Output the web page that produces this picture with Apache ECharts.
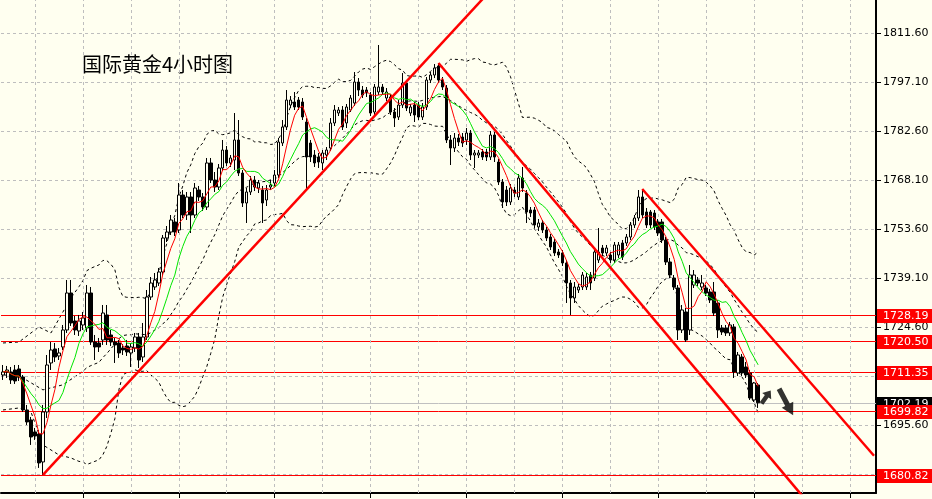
<!DOCTYPE html>
<html><head><meta charset="utf-8">
<script src="https://cdn.jsdelivr.net/npm/echarts@6/dist/echarts.min.js"></script>
<style>html,body{margin:0;padding:0;background:#FFFFF0;}#c{width:932px;height:499px;}</style>
</head><body><div id="c"></div>
<script>
const chartTitle = '国际黄金4小时图';
const slotCount = 219;
const opens = [1710.41,1711.30,1711.30,1711.89,1712.19,1709.82,1700.05,1697.09,1693.53,1692.94,
1684.65,1699.46,1713.97,1718.11,1716.04,1718.70,1723.74,1734.69,1726.40,1723.44,
1725.22,1724.33,1734.69,1720.18,1719.89,1720.78,1728.18,1722.26,1720.18,1719.89,
1718.41,1719.00,1716.93,1718.41,1721.66,1715.74,1721.66,1733.51,1736.47,1737.65,
1740.91,1750.98,1752.75,1755.72,1753.35,1763.71,1757.79,1763.12,1757.79,1765.19,
1763.12,1760.16,1773.19,1768.15,1766.08,1771.71,1777.03,1773.19,1774.07,1780.00,
1770.22,1761.34,1764.60,1768.15,1765.78,1765.19,1762.23,1766.08,1767.26,1769.63,
1779.11,1783.85,1790.36,1791.25,1791.84,1791.25,1785.33,1779.11,1775.55,1774.96,
1773.19,1775.55,1777.63,1785.03,1787.99,1788.88,1785.03,1788.88,1790.95,1797.17,
1794.80,1794.80,1793.32,1788.29,1794.21,1795.69,1792.43,1792.73,1788.29,1786.81,
1790.36,1796.87,1787.99,1790.36,1790.36,1786.81,1789.77,1797.76,1799.24,1801.91,
1797.76,1795.39,1780.00,1777.63,1780.59,1780.88,1780.00,1782.07,1775.55,1775.55,
1776.44,1776.44,1774.96,1781.48,1773.48,1767.56,1765.19,1761.64,1765.19,1763.12,
1768.74,1764.30,1759.27,1759.27,1754.24,1755.42,1753.35,1751.27,1749.79,1746.83,
1746.54,1743.58,1737.65,1733.21,1735.58,1736.47,1736.47,1740.02,1739.13,1744.46,
1748.02,1746.54,1745.94,1744.46,1745.94,1749.50,1749.50,1751.27,1754.83,1756.90,
1763.12,1758.68,1758.68,1758.38,1755.72,1755.72,1750.39,1743.87,1739.13,1736.17,
1723.74,1729.07,1723.74,1737.06,1738.54,1736.47,1736.17,1734.99,1734.99,1731.73,
1724.33,1724.33,1722.85,1724.63,1711.00,1715.74,1712.78,1711.00,1703.01,1707.45];
const closes = [1711.30,1711.89,1708.93,1708.64,1709.82,1700.05,1696.50,1692.05,1692.35,1684.36,
1699.46,1713.37,1717.81,1715.74,1716.93,1723.74,1734.69,1725.81,1723.74,1726.40,
1727.29,1734.69,1720.18,1718.70,1718.70,1728.77,1720.78,1720.18,1719.30,1716.93,
1717.81,1717.22,1718.70,1721.66,1714.85,1721.66,1733.51,1737.65,1738.54,1740.91,
1750.98,1752.75,1756.31,1752.75,1763.71,1757.79,1763.12,1757.79,1765.78,1763.12,
1760.16,1773.19,1768.15,1766.08,1771.71,1777.03,1773.19,1774.67,1780.00,1770.22,
1761.34,1764.60,1768.15,1766.08,1767.26,1761.34,1765.19,1766.67,1769.63,1779.40,
1783.85,1791.84,1791.84,1789.77,1789.77,1786.81,1774.96,1774.96,1773.19,1773.48,
1776.15,1777.03,1785.03,1788.88,1788.88,1783.85,1789.77,1792.43,1797.17,1794.80,
1793.32,1793.91,1787.99,1795.69,1795.69,1794.21,1794.21,1788.29,1786.51,1790.36,
1796.87,1789.47,1789.77,1787.40,1786.81,1789.77,1797.76,1799.24,1801.32,1797.76,
1795.69,1780.00,1777.63,1780.59,1779.40,1779.11,1782.07,1775.55,1776.15,1776.15,
1774.96,1774.96,1781.48,1774.96,1767.56,1761.64,1761.64,1765.78,1764.30,1768.74,
1765.78,1758.68,1758.38,1754.83,1755.42,1753.35,1750.98,1748.31,1746.54,1745.94,
1743.58,1737.65,1733.21,1736.47,1736.47,1740.02,1739.43,1737.65,1746.83,1746.83,
1746.54,1748.02,1744.46,1748.91,1748.91,1745.35,1751.27,1754.83,1756.90,1763.12,
1757.79,1754.83,1754.83,1754.24,1752.46,1750.39,1743.87,1740.02,1736.47,1723.74,
1729.66,1720.78,1740.02,1740.02,1737.65,1737.65,1734.69,1732.62,1728.77,1723.74,
1723.14,1722.85,1725.22,1711.30,1716.33,1711.00,1710.41,1703.60,1708.04,1702.19];
const lows = [1708.93,1709.52,1707.75,1707.75,1708.64,1699.46,1695.61,1689.69,1691.17,1682.88,
1680.82,1697.68,1711.89,1714.26,1714.85,1717.81,1722.85,1724.92,1722.26,1721.96,
1723.74,1723.14,1719.30,1714.85,1717.22,1719.30,1719.30,1719.00,1713.97,1715.45,
1716.33,1716.04,1712.78,1717.22,1712.49,1714.26,1720.78,1732.62,1735.58,1736.77,
1740.02,1749.79,1751.87,1751.57,1752.46,1756.90,1756.31,1752.46,1756.90,1761.93,
1758.97,1759.27,1767.26,1764.60,1765.19,1770.82,1772.30,1772.00,1771.11,1769.34,
1760.16,1755.42,1763.71,1764.89,1764.30,1755.42,1760.45,1765.19,1766.38,1768.74,
1778.22,1782.96,1789.47,1788.88,1788.88,1785.92,1765.19,1773.48,1772.00,1771.71,
1771.11,1774.07,1776.74,1784.14,1787.10,1782.96,1783.55,1788.29,1790.06,1793.02,
1792.43,1792.73,1787.10,1787.40,1793.32,1793.32,1791.54,1787.40,1783.85,1785.92,
1789.47,1788.58,1787.10,1785.33,1785.92,1785.92,1788.88,1796.87,1798.35,1796.87,
1794.80,1779.11,1772.59,1776.44,1778.22,1777.92,1778.52,1774.07,1771.71,1774.67,
1774.07,1773.78,1774.07,1773.48,1766.67,1759.86,1760.45,1760.75,1763.12,1762.23,
1764.60,1755.42,1757.20,1753.94,1753.05,1752.46,1750.09,1747.42,1745.65,1745.06,
1742.69,1731.73,1728.18,1731.73,1734.69,1735.58,1735.58,1735.58,1738.25,1743.58,
1745.65,1745.65,1743.58,1743.58,1745.06,1744.46,1748.61,1750.39,1753.94,1756.01,
1756.90,1753.94,1753.94,1753.35,1751.57,1749.50,1742.98,1739.13,1735.58,1720.78,
1722.85,1720.18,1722.26,1736.17,1736.77,1735.58,1733.80,1731.73,1727.88,1721.37,
1722.26,1721.96,1721.96,1709.52,1710.12,1710.12,1709.52,1703.01,1702.42,1700.64];
const highs = [1713.37,1713.08,1712.78,1713.37,1713.37,1710.41,1701.53,1697.98,1694.72,1694.13,
1701.53,1716.33,1720.18,1719.89,1718.41,1725.22,1738.54,1738.54,1727.88,1728.18,
1729.07,1737.06,1736.47,1722.26,1721.37,1731.14,1731.14,1723.74,1721.37,1720.78,
1719.59,1720.78,1719.89,1722.85,1722.85,1725.81,1735.58,1739.43,1740.61,1742.10,
1751.87,1754.53,1757.79,1756.90,1767.26,1765.19,1764.60,1764.60,1767.26,1766.38,
1764.30,1774.67,1774.67,1770.52,1772.89,1780.00,1778.22,1775.55,1787.99,1785.92,
1771.11,1765.78,1769.34,1769.34,1768.15,1766.38,1766.67,1768.15,1771.11,1780.59,
1785.92,1794.80,1793.02,1794.21,1792.73,1792.43,1786.51,1780.00,1777.03,1776.15,
1777.03,1777.92,1786.51,1790.36,1789.77,1790.06,1790.66,1793.32,1800.13,1798.35,
1795.99,1795.69,1794.21,1796.58,1808.13,1796.58,1795.39,1793.62,1789.47,1791.84,
1799.83,1797.76,1790.66,1791.25,1791.25,1790.95,1798.65,1800.13,1802.50,1802.80,
1798.65,1796.28,1781.48,1782.07,1781.77,1782.07,1783.55,1782.96,1777.03,1777.03,
1777.33,1777.33,1782.66,1782.36,1774.37,1768.45,1766.38,1766.97,1766.08,1769.93,
1772.00,1765.19,1760.16,1760.16,1756.60,1756.31,1754.24,1752.16,1750.68,1747.72,
1747.42,1744.46,1738.54,1737.95,1737.36,1740.91,1740.61,1740.91,1748.02,1753.94,
1748.91,1748.91,1746.83,1749.79,1749.79,1750.39,1752.16,1755.72,1757.79,1765.19,
1765.49,1759.86,1759.27,1759.27,1756.60,1756.60,1751.27,1745.06,1740.02,1737.06,
1731.14,1730.25,1742.98,1741.50,1739.43,1740.02,1737.06,1735.88,1737.95,1732.62,
1725.22,1725.22,1726.11,1725.51,1717.22,1716.63,1714.26,1711.89,1708.34,1708.04];
// Bollinger band values (bars before the window are unknown)
const earlyUpper = [[0,1719.89],[4,1720.18],[9,1724.63],[12,1722.85],[17,1733.21]];
const earlyMiddle = [[0,1710.50],[5,1709.50],[10,1706.00],[15,1707.50]];
const earlyLower = [[0,1700.05],[4,1700.64],[7,1699.46],[10,1689.69],[14,1686.73],[17,1685.84]];
const yTicks = [1681.10,1695.60,1710.10,1724.60,1739.10,1753.60,1768.10,1782.60,1797.10,1811.60];
const levels = [1728.19,1720.50,1711.35,1699.82,1680.82];
const lastPrice = 1702.19;
const trendUp = [[10,1680.82],[125,1828.10]];
const trendDown1 = [[109,1802.80],[200,1674.67]];
const trendDown2 = [[160,1765.49],[218,1686.49]];
const arrowUp = [[191,1703.9]];
const arrowDown = [[196,1702.4]];
const yMin = 1675.46, yMax = 1821.46;
const bbPeriod = 20, bbDev = 2, fastMA = 5, slowMA = 10;

const cats = [];
for (let i = 0; i < slotCount; i++) cats.push(String(i));
const ohlc = opens.map((o, i) => [o, closes[i], lows[i], highs[i]]);
function sma(arr, n) {
  return arr.map((_, i) => {
    const s = Math.max(0, i - n + 1); let sum = 0;
    for (let k = s; k <= i; k++) sum += arr[k];
    return +(sum / (i - s + 1)).toFixed(2);
  });
}
const ma5 = sma(closes, fastMA);
const ma10 = sma(closes, slowMA);
const bbUp = [], bbMid = [], bbLow = [];
for (let i = bbPeriod - 1; i < closes.length; i++) {
  let m = 0; for (let k = i - bbPeriod + 1; k <= i; k++) m += closes[k]; m /= bbPeriod;
  let v = 0; for (let k = i - bbPeriod + 1; k <= i; k++) v += (closes[k] - m) ** 2;
  const sd = Math.sqrt(v / bbPeriod);
  bbUp.push([i, +(m + bbDev * sd).toFixed(2)]);
  bbMid.push([i, +m.toFixed(2)]);
  bbLow.push([i, +(m - bbDev * sd).toFixed(2)]);
}
const upLine = earlyUpper.concat(bbUp);
const midLine = earlyMiddle.concat(bbMid);
const lowLine = earlyLower.concat(bbLow);
const vGrid = [];
for (let i = 8; i < slotCount; i += 12) vGrid.push(String(i));

const FONT = 'DejaVu Sans';
function levelRenderer(lineColor, boxColor) {
  return function (params, api) {
    const cs = params.coordSys;
    const y = Math.round(api.coord([0, api.value(1)])[1]) + 0.5;
    return {type: 'group', children: [
      {type: 'line', shape: {x1: cs.x, y1: y, x2: cs.x + cs.width, y2: y}, style: {stroke: lineColor, lineWidth: 1}},
      {type: 'rect', shape: {x: cs.x + cs.width + 1, y: Math.round(y) - 7, width: 56, height: 14}, style: {fill: boxColor}},
      {type: 'text', x: cs.x + cs.width + 7, y: Math.round(y), style: {text: api.value(1).toFixed(2), fill: '#fff', font: '11px "' + FONT + '"', verticalAlign: 'middle', align: 'left'}}
    ]};
  };
}
const dash = {type: [3, 3], color: '#000', width: 1};
const chart = echarts.init(document.getElementById('c'), null, {renderer: 'canvas'});
chart.setOption({
  animation: false,
  backgroundColor: '#FFFFF0',
  grid: {left: 1, right: 56, top: 0, bottom: 6, containLabel: false},
  graphic: [{type: 'text', left: 82, top: 54, style: {text: chartTitle, font: '20px "Noto Sans CJK SC"', fill: '#000'}}],
  xAxis: {
    type: 'category', data: cats, boundaryGap: true,
    axisLine: {show: true, lineStyle: {color: '#000', width: 2}},
    axisTick: {show: true, alignWithLabel: true, length: 5, lineStyle: {color: '#000'}, interval: (idx) => idx >= 20 && (idx - 20) % 24 === 0},
    axisLabel: {show: false}, splitLine: {show: false}
  },
  yAxis: {
    type: 'value', position: 'right', min: yMin, max: yMax, scale: true,
    axisLine: {show: true, lineStyle: {color: '#000', width: 2}},
    axisTick: {show: true, length: 5, customValues: yTicks, lineStyle: {color: '#000'}},
    axisLabel: {show: true, customValues: yTicks, margin: 7, color: '#000', fontFamily: FONT, fontSize: 11, formatter: v => v.toFixed(2)},
    splitLine: {show: false}
  },
  series: [
    {type: 'line', data: [], silent: true, z: 1,
     markLine: {silent: true, symbol: 'none', animation: false,
       lineStyle: {type: [3, 3], color: '#BEBEBE', width: 1},
       label: {show: false},
       data: yTicks.map(v => ({yAxis: v})).concat(vGrid.map(c => ({xAxis: c})))}},
    {type: 'line', data: upLine, showSymbol: false, silent: true, z: 3, lineStyle: dash},
    {type: 'line', data: midLine, showSymbol: false, silent: true, z: 3, lineStyle: dash},
    {type: 'line', data: lowLine, showSymbol: false, silent: true, z: 3, lineStyle: dash},
    {type: 'custom', data: [[0, lastPrice]], encode: {x: 0, y: 1}, clip: false, silent: true, z: 4, renderItem: levelRenderer('#C0C0C0', '#000')},
    {type: 'custom', data: levels.map(v => [0, v]), encode: {x: 0, y: 1}, clip: false, silent: true, z: 4, renderItem: levelRenderer('#FF0000', '#FF0000')},
    {type: 'candlestick', data: ohlc, z: 5, barWidth: 3,
     itemStyle: {color: '#FFFFF0', color0: '#000', borderColor: '#000', borderColor0: '#000', borderWidth: 1}},
    {type: 'line', data: ma10, showSymbol: false, silent: true, z: 6, lineStyle: {color: '#00E600', width: 1}},
    {type: 'line', data: ma5, showSymbol: false, silent: true, z: 6, lineStyle: {color: '#FF0000', width: 1}},
    {type: 'line', data: trendUp, showSymbol: false, silent: true, z: 7, clip: true, lineStyle: {color: '#FF0000', width: 2.5}},
    {type: 'line', data: trendDown1, showSymbol: false, silent: true, z: 7, clip: true, lineStyle: {color: '#FF0000', width: 2.5}},
    {type: 'line', data: trendDown2, showSymbol: false, silent: true, z: 7, clip: true, lineStyle: {color: '#FF0000', width: 2.5}},
    {type: 'scatter', data: arrowUp, silent: true, z: 8, symbol: 'path://M5,0 L10,7 L7,7 L7,16 L3,16 L3,7 L0,7 Z', symbolSize: [11, 16], symbolRotate: -35, itemStyle: {color: '#000'}},
    {type: 'scatter', data: arrowDown, silent: true, z: 8, symbol: 'path://M5,0 L10,8 L7,8 L7,20 L3,20 L3,8 L0,8 Z', symbolSize: [13, 30], symbolRotate: -152, itemStyle: {color: '#000'}}
  ]
});
</script></body></html>
